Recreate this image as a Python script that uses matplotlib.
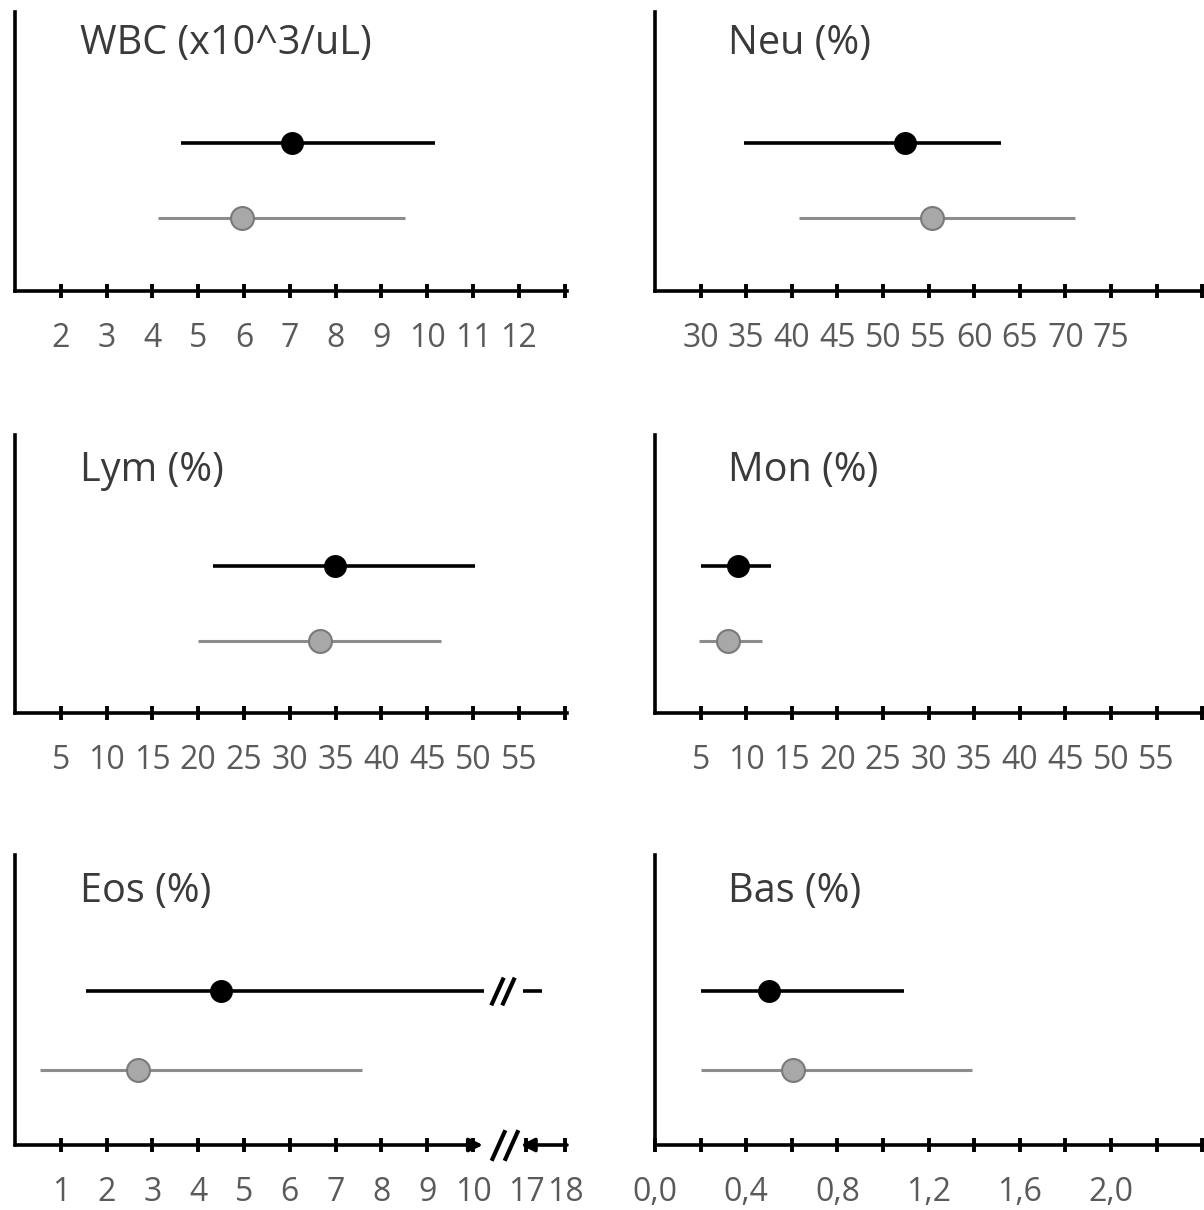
#!/usr/bin/env python3
"""Range plots of white blood cell counts, two groups per panel."""

import matplotlib.pyplot as plt
import numpy as np
from matplotlib.path import Path

plt.rcParams["font.family"] = ["Open Sans", "DejaVu Sans"]

W, H = 1204, 1210

titles = ["WBC (x10^3/uL)", "Neu (%)", "Lym (%)", "Mon (%)", "Eos (%)", "Bas (%)"]

# low / mean / high of each group
black_low = [4.62, 34.8, 21.6, 5.0, 1.55, 0.20]
black_mean = [7.05, 52.4, 34.9, 9.1, 4.5, 0.50]
black_high = [10.17, 62.9, 50.2, 12.7, 17.4, 1.09]
grey_low = [4.12, 40.8, 20.0, 4.8, 0.55, 0.20]
grey_mean = [5.96, 55.4, 33.3, 8.0, 2.69, 0.605]
grey_high = [9.52, 71.0, 46.5, 11.7, 7.58, 1.39]

wbc_ticks = list(range(2, 14))
wbc_labels = [str(v) for v in range(2, 13)] + [""]
neu_ticks = list(range(30, 90, 5))
neu_labels = [str(v) for v in range(30, 80, 5)] + ["", ""]
pct_ticks = list(range(5, 65, 5))
pct_labels = [str(v) for v in range(5, 60, 5)] + [""]
eos_ticks = [1, 2, 3, 4, 5, 6, 7, 8, 9, 10, 17, 18]
eos_labels = [str(v) for v in eos_ticks]
bas_ticks = [round(0.2 * i, 1) for i in range(13)]
bas_labels = ["0,0", "", "0,4", "", "0,8", "", "1,2", "", "1,6", "", "2,0", "", ""]

ticks = [wbc_ticks, neu_ticks, pct_ticks, pct_ticks, eos_ticks, bas_ticks]
labels = [wbc_labels, neu_labels, pct_labels, pct_labels, eos_labels, bas_labels]
xlims = [(1, 13.05), (25, 86.4), (0, 60.26), (0, 61.4), (0, 18.05), (0, 2.456)]

# broken axis for Eos: 10..17 squeezed
eos_val = [-1, 0, 10, 17, 19]
eos_pos = [-1, 0, 10, 11.16, 12.86]


def eos_fwd(v):
    return np.interp(v, eos_val, eos_pos)


def eos_inv(p):
    return np.interp(p, eos_pos, eos_val)


cols = [(15, 567), (655, 1215)]
rows = [(12, 291), (435, 713), (855, 1145)]
title_y = [0.885, 0.87, 0.875]
y_black, y_grey = 0.53, 0.26

fig = plt.figure(figsize=(W / 100, H / 100), dpi=100)

slash = Path([(-0.45, -1.0), (0.45, 1.0)])

for i, title in enumerate(titles):
    r, c = divmod(i, 2)
    x0, x1 = cols[c]
    top, bot = rows[r]
    ax = fig.add_axes([x0 / W, 1 - bot / H, (x1 - x0) / W, (bot - top) / H])
    if i == 4:
        ax.set_xscale("function", functions=(eos_fwd, eos_inv))
    ax.set_xlim(*xlims[i])
    ax.set_ylim(0, 1)
    for side in ("top", "right"):
        ax.spines[side].set_visible(False)
    ax.spines["left"].set_linewidth(2.6)
    ax.spines["bottom"].set_linewidth(2.6)
    ax.spines["bottom"].set_clip_on(False)
    ax.set_yticks([])
    ax.set_xticks(ticks[i])
    ax.set_xticklabels(labels[i])
    ax.tick_params(axis="x", direction="inout", length=10, width=2.8,
                   labelsize=23, labelcolor="#5a5a5a", pad=17)

    ax.text(0.118 if c == 0 else 0.130, title_y[r], title, transform=ax.transAxes,
            fontsize=28.5, color="#3a3a3a", va="center", ha="left")

    if i == 4:
        # broken line for the black group and the broken axis
        brk_lo, brk_hi = 11.45, 16.6
        ax.plot([black_low[i], brk_lo], [y_black, y_black], color="black", lw=2.6,
                solid_capstyle="butt", zorder=2)
        ax.plot([brk_hi, black_high[i]], [y_black, y_black], color="black", lw=2.6,
                solid_capstyle="butt", zorder=2)
        ax.plot([13.2, 14.6], [y_black, y_black], ls="none", marker=slash,
                ms=20, mew=3, color="black", mfc="none", clip_on=False)
        ax.spines["bottom"].set_visible(False)
        ax.annotate("", xy=(11.3, 0), xytext=(0, 0), xycoords="data",
                    arrowprops=dict(arrowstyle="-|>", lw=2.6, color="black",
                                    mutation_scale=20, shrinkA=0, shrinkB=0),
                    annotation_clip=False)
        ax.annotate("", xy=(16.3, 0), xytext=(18.05, 0), xycoords="data",
                    arrowprops=dict(arrowstyle="-|>", lw=2.6, color="black",
                                    mutation_scale=20, shrinkA=0, shrinkB=0),
                    annotation_clip=False)
        ax.plot([13.3, 15.0], [0, 0], ls="none", marker=slash, ms=22, mew=3,
                color="black", mfc="none", clip_on=False)
    else:
        ax.plot([black_low[i], black_high[i]], [y_black, y_black], color="black",
                lw=2.6, solid_capstyle="butt", zorder=2)
    ax.plot([black_mean[i]], [y_black], "o", color="black", ms=15.5, zorder=3)

    ax.plot([grey_low[i], grey_high[i]], [y_grey, y_grey], color="#8c8c8c",
            lw=2.2, solid_capstyle="butt", zorder=2)
    ax.plot([grey_mean[i]], [y_grey], "o", mfc="#a8a8a8", mec="#7a7a7a", mew=1.5,
            ms=16.5, zorder=3)

fig.savefig("out.png", dpi=100)
